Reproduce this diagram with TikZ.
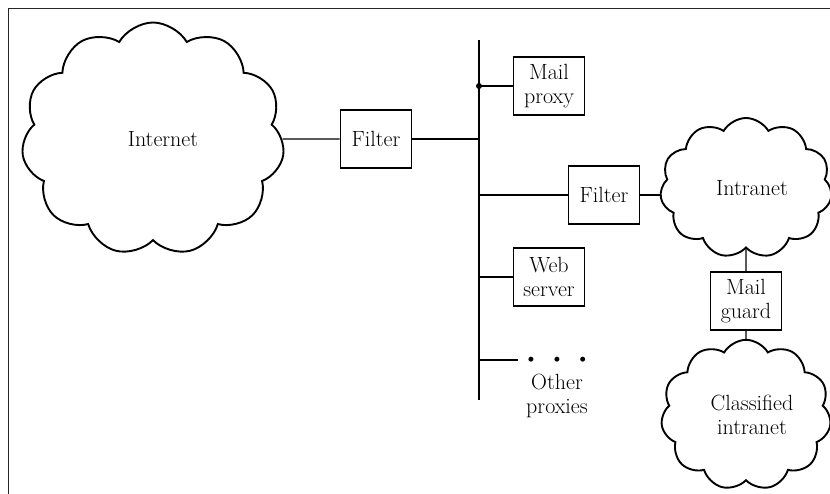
\documentclass[tikz,border=0pt]{standalone}
\usetikzlibrary{shapes.symbols}

\begin{document}
\begin{tikzpicture}[
        x=1pt, y=-1pt,
        every node/.style={font=\fontsize{22}{24}\selectfont},
        box/.style={rectangle, draw, line width=1.9pt, minimum width=71pt, minimum height=58pt, align=center, inner sep=1pt},
        net/.style={cloud, draw, line width=1.9pt, cloud puffs=11, cloud puff arc=120, align=center, inner sep=0pt},
        link/.style={line width=1.3pt}
    ]
        \useasboundingbox (0,0) rectangle (830,494);

        % Frame (top and left edges only)
        \draw[line width=1.8pt, black!85] (8.5,494) -- (8.5,8.5) -- (830,8.5);

        % Clouds
        \node[net, minimum width=263pt, minimum height=233pt] (internet) at (153,139) {\hspace{20pt}Internet};
        \node[net, minimum width=172pt, minimum height=140pt] (intranet) at (746,188) {\hspace{12pt}Intranet};
        \node[net, minimum width=170pt, minimum height=144pt] (classified) at (746,415) {\hspace{12pt}Classified\\\hspace{12pt}intranet};

        % Boxes
        \node[box] (filter_out) at (376,139) {Filter};
        \node[box] (mail_proxy) at (549,86) {Mail\\proxy};
        \node[box] (filter_in) at (604,195) {Filter};
        \node[box] (web_server) at (549,277) {Web\\server};
        \node[box] (mail_guard) at (746,301) {Mail\\guard};
        \node[align=center] (others) at (557,387) {\textbullet\hspace{10pt}\textbullet\hspace{10pt}\textbullet\\Other\\proxies};

        % Bus and its junctions
        \coordinate (bus_top) at (479,40);
        \coordinate (bus_bottom) at (479,400);
        \coordinate (j_filter) at (479,139);
        \coordinate (j_mail) at (479,86);
        \coordinate (j_intra) at (479,195);
        \coordinate (j_web) at (479,277);
        \coordinate (j_other) at (479,360);
        \draw[link] (bus_top) -- (bus_bottom);
        \fill (j_mail) circle (3pt);

        % Connections
        \draw[link] (internet) -- (filter_out);
        \draw[link] (filter_out) -- (j_filter);
        \draw[link] (j_mail) -- (mail_proxy);
        \draw[link] (j_intra) -- (filter_in);
        \draw[link] (filter_in.east) -- (filter_in.east -| intranet.west);
        \draw[link] (j_web) -- (web_server);
        \draw[link] (j_other) -- ([xshift=-2pt]others.west |- j_other);
        \draw[link] (intranet) -- (mail_guard) -- (classified);

    \end{tikzpicture}
\end{document}
